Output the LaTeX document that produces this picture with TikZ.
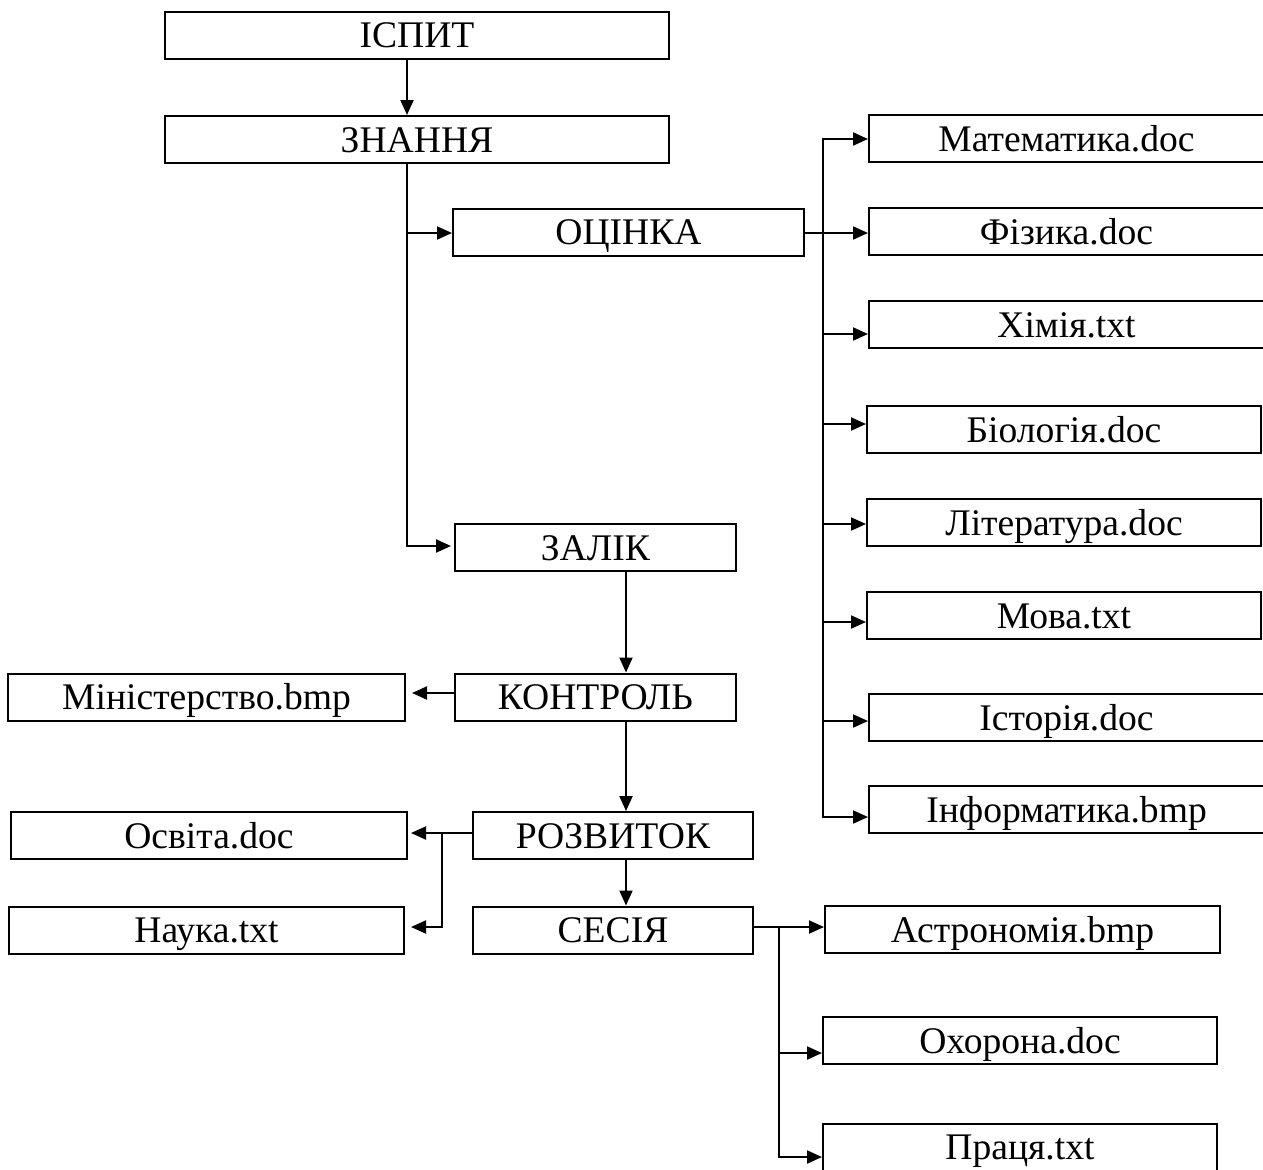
\documentclass[tikz,border=0pt]{standalone}
\usepackage{fontspec}
\setmainfont{Liberation Serif}
\usetikzlibrary{arrows.meta}
\begin{document}
\begin{tikzpicture}[x=0.5pt,y=-0.5pt,
  line width=1pt,
  box/.style={draw, inner sep=0pt, minimum height=23.5pt,
    font=\fontsize{18.8}{21}\selectfont, text height=12.6pt, text depth=0pt},
  arr/.style={-{Triangle[length=7.5pt,width=6.5pt]}}]
\path[use as bounding box, fill=white] (0,0) rectangle (1263,1169);
\clip (0,0) rectangle (1263,1169);

% main chain
\node[box, minimum width=252pt]   (ispyt)   at (417,35)     {ІСПИТ};
\node[box, minimum width=252pt]   (znannya) at (417,139.5)  {ЗНАННЯ};
\node[box, minimum width=175.5pt] (otsinka) at (628.5,232)  {ОЦІНКА};
\node[box, minimum width=140.5pt] (zalik)   at (595.5,547.5){ЗАЛІК};
\node[box, minimum width=140.5pt] (kontrol) at (595.5,697)  {КОНТРОЛЬ};
\node[box, minimum width=198.5pt] (minist)  at (206.5,697)  {Міністерство.bmp};
\node[box, minimum width=140pt]   (rozvyt)  at (613,835.5)  {РОЗВИТОК};
\node[box, minimum width=198pt]   (osvita)  at (209,835.5)  {Освіта.doc};
\node[box, minimum width=197.5pt] (nauka)   at (206.5,930)  {Наука.txt};
\node[box, minimum width=140pt]   (sesiya)  at (613,930)    {СЕСІЯ};
\node[box, minimum width=197.5pt] (astron)  at (1022.5,929.5) {Астрономія.bmp};
\node[box, minimum width=197pt]   (okhor)   at (1020,1040.5){Охорона.doc};
\node[box, minimum width=197pt]   (pratsya) at (1020,1147)  {Праця.txt};

% subject files
\node[box, minimum width=197.5pt] (mat)  at (1066.5,138.5) {Математика.doc};
\node[box, minimum width=197.5pt] (fiz)  at (1066.5,231.5) {Фізика.doc};
\node[box, minimum width=197.5pt] (khim) at (1066.5,324.5) {Хімія.txt};
\node[box, minimum width=197pt]   (biol) at (1064,429.5)   {Біологія.doc};
\node[box, minimum width=197pt]   (lit)  at (1064,522.5)   {Література.doc};
\node[box, minimum width=197pt]   (mova) at (1064,615.5)   {Мова.txt};
\node[box, minimum width=197.5pt] (ist)  at (1066.5,717.5) {Історія.doc};
\node[box, minimum width=197.5pt] (inf)  at (1066.5,809.5) {Інформатика.bmp};

% junction points
\coordinate (k1) at (407,233);
\coordinate (k2) at (407,546);
\coordinate (v1) at (626,0);
\coordinate (h1) at (0,693);
\coordinate (b1) at (442,833);
\coordinate (b2) at (442,927);
\coordinate (s1) at (779,927);
\coordinate (s2) at (779,1053);
\coordinate (s3) at (779,1157);
\coordinate (r0) at (823,139);
\coordinate (r1) at (823,233);
\coordinate (r2) at (823,334);
\coordinate (r3) at (823,424);
\coordinate (r4) at (823,524);
\coordinate (r5) at (823,622);
\coordinate (r6) at (823,721);
\coordinate (r7) at (823,817);

% left trunk
\draw[arr] (ispyt.south -| k1) -- (znannya.north -| k1);
\draw[arr] (k1) -- (k1 -| otsinka.west);
\draw[arr, shorten >=1.5pt] (znannya.south -| k1) -- (k2) -- (k2 -| zalik.west);

% central chain
\draw[arr] (zalik.south -| v1) -- (kontrol.north -| v1);
\draw[arr, shorten >=3pt] (kontrol.west |- h1) -- (minist.east |- h1);
\draw[arr] (kontrol.south -| v1) -- (rozvyt.north -| v1);
\draw[arr, shorten >=1.5pt] (rozvyt.west |- b1) -- (osvita.east |- b1);
\draw[arr, shorten >=3pt] (b1) -- (b2) -- (nauka.east |- b2);
\draw[arr] (rozvyt.south -| v1) -- (sesiya.north -| v1);

% session branch
\draw[arr] (sesiya.east |- s1) -- (astron.west |- s1);
\draw[arr] (s2) -- (s2 -| okhor.west);
\draw[arr] (s1) -- (s3) -- (s3 -| pratsya.west);

% subject bus
\draw[arr] (r7) -- (r0) -- (r0 -| mat.west);
\draw[arr] (otsinka.east |- r1) -- (r1 -| fiz.west);
\draw[arr] (r2) -- (r2 -| khim.west);
\draw[arr] (r3) -- (r3 -| biol.west);
\draw[arr] (r4) -- (r4 -| lit.west);
\draw[arr] (r5) -- (r5 -| mova.west);
\draw[arr] (r6) -- (r6 -| ist.west);
\draw[arr] (r6) -- (r7) -- (r7 -| inf.west);
\end{tikzpicture}
\end{document}
